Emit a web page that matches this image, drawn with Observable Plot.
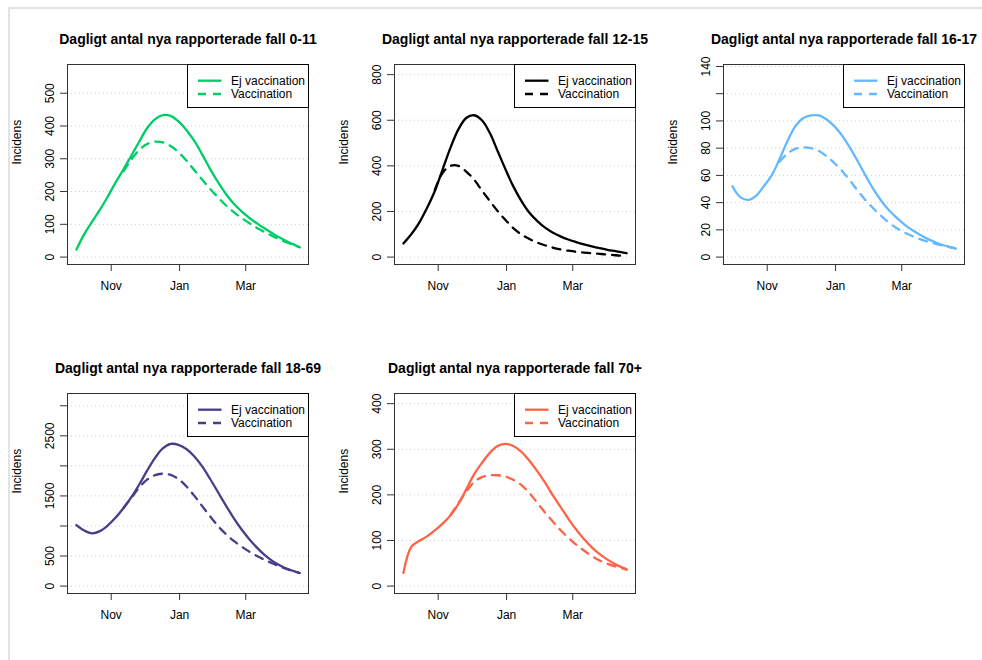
<!DOCTYPE html>
<html>
<head>
<meta charset="utf-8">
<script src="https://cdn.jsdelivr.net/npm/d3@7"></script>
<script src="https://cdn.jsdelivr.net/npm/@observablehq/plot@0.6"></script>
<style>
  body { margin: 0; background: #fff; font-family: "Liberation Sans", Arial, sans-serif; }
  #frame { position: absolute; left: 8px; top: 7px; width: 1100px; height: 800px;
           border-left: 2px solid #e3e3e3; border-top: 2px solid #e3e3e3; }
  .panel { position: absolute; }
</style>
</head>
<body>
<div id="frame"></div>
<div id="root"></div>
<script>
// ---------- data ----------
const dates = ["2021-10-01","2021-10-08","2021-10-15","2021-10-22","2021-10-29","2021-11-05","2021-11-12","2021-11-19","2021-11-26","2021-12-03","2021-12-10","2021-12-17","2021-12-24","2021-12-31","2022-01-07","2022-01-14","2022-01-21","2022-01-28","2022-02-04","2022-02-11","2022-02-18","2022-02-25","2022-03-04","2022-03-11","2022-03-18","2022-03-25","2022-04-01","2022-04-08","2022-04-15","2022-04-18"];

const groups = ["0-11", "12-15", "16-17", "18-69", "70+"];
const titlePrefix = "Dagligt antal nya rapporterade fall ";
const seriesNames = ["Ej vaccination", "Vaccination"];
const yLabel = "Incidens";
const colors = ["#00CD66", "#000000", "#63B8FF", "#483D8B", "#FF6347"];

const ej_0_11   = [23,70,108,145,185,228,268,310,352,393,420,433,431,414,388,355,314,270,230,194,164,140,120,103,87,72,58,46,35,30];
const vacc_0_11 = [null,null,null,null,null,null,262,298,327,345,352,350,339,320,295,266,237,209,183,159,138,120,104,89,76,64,53,43,34,30];

const ej_12_15   = [60,100,150,215,290,385,480,560,610,622,600,545,465,385,310,248,197,160,130,108,91,77,66,56,47,39,32,26,20,17];
const vacc_12_15 = [null,null,null,null,295,370,400,400,375,340,292,246,202,163,127,100,80,64,52,42,34,28,23,20,17,14,11,8,5,4];

const ej_16_17   = [52,44,42,45,52,60,72,85,96,102,104,104,101,96,89,80,70,59.5,49.5,41,34,28.5,23.5,19.5,16,13,10.5,8.5,7,6.3];
const vacc_16_17 = [null,null,null,null,null,null,70,76,79.5,80.5,80,78,74,69,63,56,48.5,41.5,35.5,30,25,21,17.8,15.2,13,11.2,9.6,8.2,6.9,6.3];

const ej_18_69   = [1015,925,878,915,1010,1140,1300,1480,1690,1920,2130,2290,2365,2350,2280,2160,1995,1790,1570,1350,1140,950,785,640,515,415,340,280,235,218];
const vacc_18_69 = [null,null,null,null,null,null,1300,1470,1640,1770,1845,1870,1850,1780,1660,1505,1335,1165,1005,870,755,660,575,500,435,375,322,275,237,218];

const ej_70   = [29,86,99,109,122,137,155,180,212,245,270,292,307,312,307,295,276,253,228,200,174,148,124,103,85,70,58,48,40,37];
const vacc_70 = [null,null,null,null,null,null,156,182,207,228,239,243,243,240,233,222,205,184,162,142,123,106,91,78,66,56,49,43,38,36];

const ejSeries   = [ej_0_11, ej_12_15, ej_16_17, ej_18_69, ej_70];
const vaccSeries = [vacc_0_11, vacc_12_15, vacc_16_17, vacc_18_69, vacc_70];

// y-axis upper limits (before 4% padding), ticks and their printed labels
const yLimits = [565, 812, 136, 3081, 406];
const yTicks = [
  [0,100,200,300,400,500],
  [0,200,400,600,800],
  [0,20,40,60,80,100,120,140],
  [0,500,1000,1500,2000,2500,3000],
  [0,100,200,300,400]
];
const yTickLabels = [
  ["0","100","200","300","400","500"],
  ["0","200","400","600","800"],
  ["0","20","40","60","80","100","","140"],
  ["0","500","","1500","","2500",""],
  ["0","100","200","300","400"]
];
const xTickDates = ["2021-11-01","2022-01-01","2022-03-01"];
const xTickLabels = ["Nov","Jan","Mar"];

// ---------- layout ----------
const ML = 67, MT = 64, MR = 6, MB = 40, BW = 241, BH = 200;
const boxLeft = [67, 394, 723, 67, 394];
const boxTop  = [64, 64, 64, 393, 393];

const parse = d3.utcParse("%Y-%m-%d");
const D = dates.map(parse);
const xTicks = xTickDates.map(parse);
const xLabelMap = new Map(xTicks.map((d, k) => [+d, xTickLabels[k]]));
const root = document.getElementById("root");
const font = '"Liberation Sans", Arial, sans-serif';

groups.forEach((g, i) => {
  const ejRows = D.map((d, j) => ({date: d, value: ejSeries[i][j]}));
  const vaRows = D.map((d, j) => ({date: d, value: vaccSeries[i][j]})).filter(r => r.value != null);
  const ext = d3.extent(D);
  const pad = (ext[1] - ext[0]) * 0.04;
  const top = yLimits[i];
  const yLabelMap = new Map(yTicks[i].map((v, k) => [v, yTickLabels[i][k]]));

  const plot = Plot.plot({
    width: ML + BW + MR,
    height: MT + BH + MB,
    marginLeft: ML, marginTop: MT, marginRight: MR, marginBottom: MB,
    style: {fontFamily: font, fontSize: "12px", color: "black", background: "transparent", overflow: "visible"},
    x: {type: "utc", domain: [new Date(+ext[0] - pad), new Date(+ext[1] + pad)]},
    y: {domain: [-0.04 * top, 1.04 * top]},
    marks: [
      Plot.ruleY(yTicks[i], {stroke: "#cfcfcf", strokeDasharray: "1,3"}),
      Plot.line(ejRows, {x: "date", y: "value", stroke: colors[i], strokeWidth: 2.3, curve: "catmull-rom"}),
      Plot.line(vaRows, {x: "date", y: "value", stroke: colors[i], strokeWidth: 2.3, strokeDasharray: "8,7", curve: "catmull-rom"}),
      Plot.frame({stroke: "#333"}),
      Plot.axisX({ticks: xTicks, tickSize: 7, tickPadding: 10, tickFormat: d => xLabelMap.get(+d), label: null, stroke: "#333", fill: "black", fontSize: 12}),
      Plot.axisY({ticks: yTicks[i], tickSize: 7, tickPadding: 7, tickRotate: -90, tickFormat: d => yLabelMap.get(d), label: null, stroke: "#333", fill: "black", fontSize: 12}),
      Plot.text([yLabel], {text: d => d, frameAnchor: "left", dx: -50, rotate: -90, fontSize: 12, fill: "black"}),
      Plot.text([titlePrefix + g], {text: d => d, frameAnchor: "top", dy: -21, lineAnchor: "bottom", fontSize: 14, fontWeight: "bold", fill: "black"})
    ]
  });

  // legend (top-right inside the frame)
  const svg = d3.select(plot);
  const lw = 121, lh = 43;
  const lx = ML + BW - lw + 0.5, ly = MT + 0.5;
  const lg = svg.append("g").attr("transform", `translate(${lx},${ly})`);
  lg.append("rect").attr("width", lw).attr("height", lh).attr("fill", "white").attr("stroke", "black").attr("stroke-width", 1);
  const rowsY = [16.2, 29.5];
  seriesNames.forEach((name, k) => {
    lg.append("line").attr("x1", 10.5).attr("x2", 34).attr("y1", rowsY[k]).attr("y2", rowsY[k])
      .attr("stroke", colors[i]).attr("stroke-width", 2.3)
      .attr("stroke-dasharray", k === 1 ? "8,7" : null);
    lg.append("text").attr("x", 43.5).attr("y", rowsY[k]).attr("dy", "0.35em")
      .attr("text-anchor", "start")
      .attr("font-family", font).attr("font-size", 12).attr("fill", "black").text(name);
  });

  const div = document.createElement("div");
  div.className = "panel";
  div.style.left = (boxLeft[i] - ML) + "px";
  div.style.top = (boxTop[i] - MT) + "px";
  div.appendChild(plot);
  root.appendChild(div);
});
</script>
</body>
</html>
